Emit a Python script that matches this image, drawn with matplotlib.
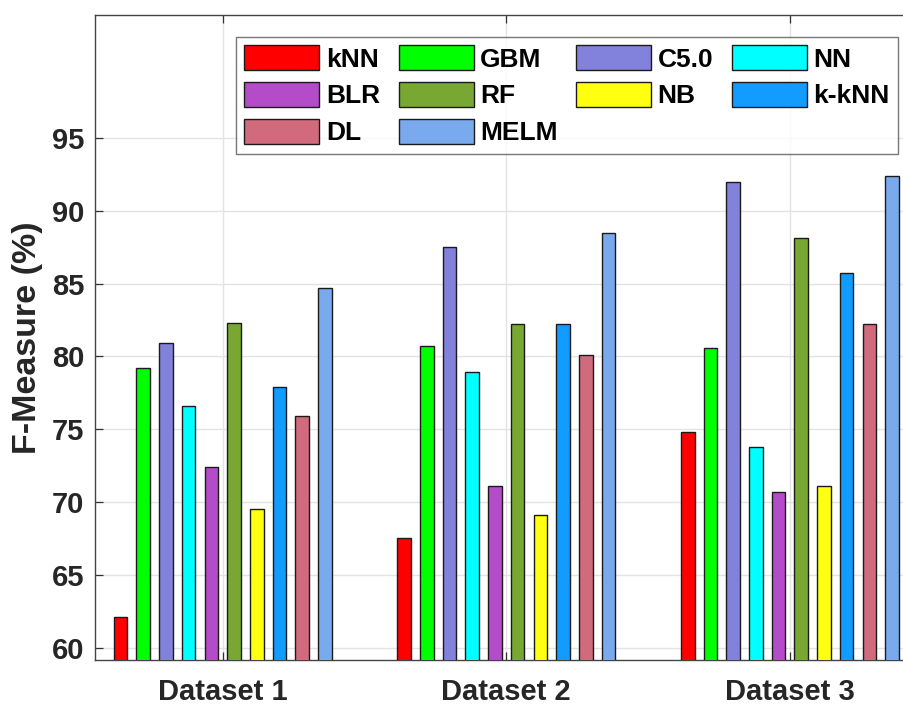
import matplotlib
matplotlib.use("Agg")
import matplotlib.pyplot as plt
import numpy as np

plt.rcParams['font.family'] = ['Liberation Sans', 'DejaVu Sans']
plt.rcParams['font.weight'] = 'bold'

groups = ["Dataset 1", "Dataset 2", "Dataset 3"]
methods = ["kNN", "GBM", "C5.0", "NN", "BLR", "RF", "NB", "k-kNN", "DL", "MELM"]
colors = ["#FF0000", "#00FF00", "#8282DC", "#00FFFF", "#B44BC8",
          "#78A832", "#FFFF10", "#129CFF", "#D06A7C", "#7AAAEE"]

# values per method: [Dataset 1, Dataset 2, Dataset 3]
kNN   = [62.1, 67.5, 74.8]
GBM   = [79.2, 80.7, 80.6]
C50   = [80.9, 87.5, 92.0]
NN    = [76.6, 78.9, 73.8]
BLR   = [72.4, 71.1, 70.7]
RF    = [82.3, 82.2, 88.1]
NB    = [69.5, 69.1, 71.1]
kkNN  = [77.9, 82.2, 85.7]
DL    = [75.9, 80.1, 82.2]
MELM  = [84.7, 88.5, 92.4]
values = [kNN, GBM, C50, NN, BLR, RF, NB, kkNN, DL, MELM]

yticks = [60, 65, 70, 75, 80, 85, 90, 95]

fig = plt.figure(figsize=(9.04, 7.06), dpi=100)
ax = fig.add_axes([95.3 / 904, 46 / 706, 822 / 904, 645.3 / 706])

x = np.arange(1, len(groups) + 1)
pitch = 0.08
width = 0.048
handles = {}
for i, (m, v, c) in enumerate(zip(methods, values, colors)):
    bars = ax.bar(x + (i - 4.5) * pitch, np.array(v) - 40, bottom=40, width=width,
                  color=c, edgecolor='#1a1a1a', linewidth=1.0, label=m, zorder=3)
    handles[m] = bars

ax.set_xlim(0.551, 3.449)
ax.set_ylim(59.15, 103.47)
ax.set_xticks(x)
ax.set_xticklabels(groups)
ax.set_yticks(yticks)

ax.grid(True, color='#e3e3e3', linewidth=1.0, zorder=0)
ax.set_axisbelow(True)
for s in ax.spines.values():
    s.set_color('#444444')
    s.set_linewidth(1.0)

ax.tick_params(axis='both', direction='in', length=6, width=0.9, color='#333333',
               labelsize=21, labelcolor='#262626', top=True, right=True)
ax.tick_params(axis='y', pad=8)
ax.tick_params(axis='x', pad=13)
for lab in ax.get_xticklabels() + ax.get_yticklabels():
    lab.set_fontweight('bold')

ax.set_ylabel("F-Measure (%)", fontsize=24.5, fontweight='bold', color='#262626', labelpad=6)

order = ["kNN", "BLR", "DL", "GBM", "RF", "MELM", "C5.0", "NB", "NN", "k-kNN"]
leg = ax.legend([handles[m] for m in order], order, ncol=4, loc='upper left',
                bbox_to_anchor=(236 / 904, 1 - 37 / 706), bbox_transform=fig.transFigure,
                borderaxespad=0, frameon=True, fancybox=False,
                handlelength=2.84, handleheight=1.05, handletextpad=0.25,
                columnspacing=0.7, labelspacing=0.4, borderpad=0.32,
                prop={'weight': 'bold', 'size': 19})
leg.get_frame().set_edgecolor('#555555')
leg.get_frame().set_linewidth(1.0)
leg.set_zorder(5)

fig.savefig("out.png", dpi=100)
